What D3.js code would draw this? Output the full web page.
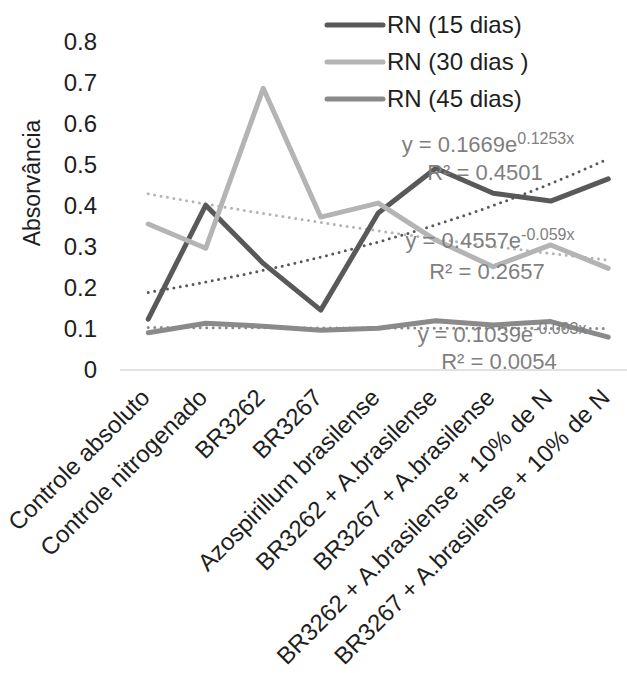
<!DOCTYPE html>
<html>
<head>
<meta charset="utf-8">
<script src="https://cdn.jsdelivr.net/npm/d3@7"></script>
<style>
  body { margin: 0; background: #fff; }
  text { font-family: "Liberation Sans", Arial, sans-serif; }
</style>
</head>
<body>
<script>
// data
var categories = [
  "Controle absoluto",
  "Controle nitrogenado",
  "BR3262",
  "BR3267",
  "Azospirillum brasilense",
  "BR3262 + A.brasilense",
  "BR3267 + A.brasilense",
  "BR3262 + A.brasilense + 10% de N",
  "BR3267 + A.brasilense + 10% de N"
];
var rn15 = [0.124, 0.402, 0.26, 0.146, 0.383, 0.492, 0.431, 0.412, 0.466];
var rn30 = [0.356, 0.297, 0.687, 0.373, 0.407, 0.317, 0.252, 0.305, 0.248];
var rn45 = [0.091, 0.114, 0.107, 0.097, 0.102, 0.12, 0.11, 0.118, 0.08];
var seriesNames = ["RN (15 dias)", "RN (30 dias )", "RN (45 dias)"];
var seriesColors = ["#595959", "#b4b4b4", "#8a8a8a"];
// exponential trendlines y = a*e^(b*x), as printed on the chart
var trendA = [0.1669, 0.4557, 0.1039];
var trendB = [0.1253, -0.059, -0.003];
var trendR2 = ["0.4501", "0.2657", "0.0054"];
var yTicks = [0, 0.1, 0.2, 0.3, 0.4, 0.5, 0.6, 0.7, 0.8];

var width = 627, height = 673;
var svg = d3.select("body").append("svg")
  .attr("width", width)
  .attr("height", height);

var x = d3.scalePoint().domain(categories).range([119.5, 637]).padding(0.5);
var y = d3.scaleLinear().domain([0, 0.8]).range([370, 42]);

// y axis labels, no line
var yAxis = svg.append("g")
  .attr("transform", "translate(120,0)")
  .call(d3.axisLeft(y).tickValues(yTicks).tickSize(0).tickPadding(23).tickFormat(d3.format(".1~f")));
yAxis.select(".domain").remove();
yAxis.selectAll("text")
  .style("font-size", "24px")
  .attr("fill", "#1e1e1e");

// x axis line
svg.append("line")
  .attr("x1", 120).attr("x2", width)
  .attr("y1", y(0)).attr("y2", y(0))
  .attr("stroke", "#d9d9d9")
  .attr("stroke-width", 1.5);

// category labels
svg.selectAll(".cat")
  .data(categories)
  .enter()
  .append("text")
  .attr("class", "cat")
  .attr("transform", function (d) {
    return "translate(" + (x(d) + 3) + ",399) rotate(-45)";
  })
  .attr("text-anchor", "end")
  .style("font-size", "24px")
  .attr("fill", "#1e1e1e")
  .text(function (d) { return d; });

// axis title
svg.append("text")
  .attr("transform", "translate(40,183) rotate(-90)")
  .attr("text-anchor", "middle")
  .style("font-size", "23px")
  .attr("fill", "#1e1e1e")
  .text("Absorvância");

var allSeries = [rn15, rn30, rn45];

var line = d3.line()
  .x(function (d, i) { return x(categories[i]); })
  .y(function (d) { return y(d); });

// trendlines (dotted, from the printed equations)
allSeries.forEach(function (s, k) {
  var pts = d3.range(1, 9.01, 0.1).map(function (t) {
    return [x(categories[0]) + (t - 1) * x.step(), y(trendA[k] * Math.exp(trendB[k] * t))];
  });
  svg.append("path")
    .attr("d", d3.line()(pts))
    .attr("fill", "none")
    .attr("stroke", seriesColors[k])
    .attr("stroke-width", 3)
    .attr("stroke-linecap", "round")
    .attr("stroke-dasharray", "0 6.5");
});

// series lines
allSeries.forEach(function (s, k) {
  svg.append("path")
    .datum(s)
    .attr("d", line)
    .attr("fill", "none")
    .attr("stroke", seriesColors[k])
    .attr("stroke-width", 5)
    .attr("stroke-linejoin", "round")
    .attr("stroke-linecap", "round");
});

// trendline labels
var labelPos = [[488, 152, 180], [490, 248, 279], [502, 342, 369]];
labelPos.forEach(function (p, k) {
  var t = svg.append("text")
    .attr("x", p[0]).attr("y", p[1])
    .attr("text-anchor", "middle")
    .attr("fill", "#7f7f7f")
    .style("font-size", "22px");
  t.append("tspan").text("y = " + trendA[k] + "e");
  t.append("tspan")
    .attr("dy", -8)
    .style("font-size", "16px")
    .text(trendB[k] + "x");
  svg.append("text")
    .attr("x", p[0] - 3).attr("y", p[2])
    .attr("text-anchor", "middle")
    .attr("fill", "#7f7f7f")
    .style("font-size", "22px")
    .text("R² = " + trendR2[k]);
});

// legend
var legend = svg.selectAll(".leg")
  .data(seriesNames)
  .enter()
  .append("g")
  .attr("transform", function (d, i) { return "translate(327," + (25 + i * 37) + ")"; });
legend.append("line")
  .attr("x1", 0).attr("x2", 56)
  .attr("stroke", function (d, i) { return seriesColors[i]; })
  .attr("stroke-width", 5)
  .attr("stroke-linecap", "round");
legend.append("text")
  .attr("x", 60)
  .attr("dy", "0.35em")
  .style("font-size", "24px")
  .attr("fill", "#1e1e1e")
  .text(function (d) { return d; });
</script>
</body>
</html>
